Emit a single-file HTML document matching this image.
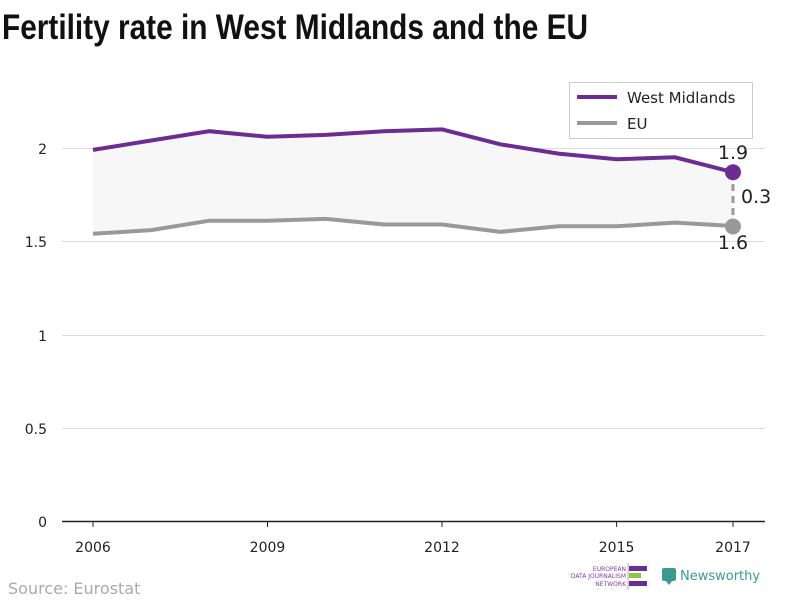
<!DOCTYPE html>
<html><head><meta charset="utf-8"><style>
body{margin:0;background:#fff;}
svg text{font-family:"DejaVu Sans","Liberation Sans",sans-serif;}
</style></head><body>
<svg width="800" height="600" viewBox="0 0 800 600" xmlns="http://www.w3.org/2000/svg">
<text x="2" y="39" font-weight="bold" font-size="35" fill="#111" style="font-family:'Liberation Sans Narrow','Liberation Sans',sans-serif" textLength="586" lengthAdjust="spacingAndGlyphs">Fertility rate in West Midlands and the EU</text>
<g stroke="#ddd" stroke-width="1">
<line x1="62" x2="765" y1="148.5" y2="148.5"/>
<line x1="62" x2="765" y1="241.5" y2="241.5"/>
<line x1="62" x2="765" y1="335.5" y2="335.5"/>
<line x1="62" x2="765" y1="428.5" y2="428.5"/>
</g>
<line x1="62" x2="765" y1="521.5" y2="521.5" stroke="#222" stroke-width="1.5"/>
<g font-size="14" fill="#222" text-anchor="end">
<text x="47" y="154">2</text><text x="47" y="247">1.5</text><text x="47" y="341">1</text><text x="47" y="434">0.5</text><text x="47" y="527">0</text>
</g>
<g stroke="#222"><line x1="93" x2="93" y1="521" y2="527"/><line x1="267.5" x2="267.5" y1="521" y2="527"/><line x1="442" x2="442" y1="521" y2="527"/><line x1="616.6" x2="616.6" y1="521" y2="527"/><line x1="733" x2="733" y1="521" y2="527"/></g>
<g font-size="14" fill="#222" text-anchor="middle">
<text x="93" y="552">2006</text><text x="267.5" y="552">2009</text><text x="442" y="552">2012</text><text x="616.6" y="552">2015</text><text x="733" y="552">2017</text>
</g>
<polygon fill="#f7f7f7" points="93,149.9 151.2,140.5 209.4,131.2 267.5,136.8 325.7,134.9 383.9,131.2 442.1,129.4 500.3,144.3 558.4,153.6 616.6,159.2 674.8,157.3 733,172.2 733,226 674.8,222.6 616.6,226.3 558.4,226.3 500.3,231.9 442.1,224.5 383.9,224.5 325.7,218.9 267.5,220.7 209.4,220.7 151.2,230.1 93,233.8"/>
<polyline fill="none" stroke="#999" stroke-width="4" points="93,233.8 151.2,230.1 209.4,220.7 267.5,220.7 325.7,218.9 383.9,224.5 442.1,224.5 500.3,231.9 558.4,226.3 616.6,226.3 674.8,222.6 733,226"/>
<polyline fill="none" stroke="#6c2c91" stroke-width="4" points="93,149.9 151.2,140.5 209.4,131.2 267.5,136.8 325.7,134.9 383.9,131.2 442.1,129.4 500.3,144.3 558.4,153.6 616.6,159.2 674.8,157.3 733,172.2"/>
<line x1="733" x2="733" y1="184" y2="216" stroke="#999" stroke-width="3" stroke-dasharray="7,5"/>
<circle cx="733" cy="172.2" r="8" fill="#6c2c91"/>
<circle cx="733" cy="226.5" r="8" fill="#999"/>
<g font-size="19" fill="#222">
<text x="733" y="159" text-anchor="middle">1.9</text>
<text x="733" y="249" text-anchor="middle">1.6</text>
<text x="741" y="203">0.3</text>
</g>
<rect x="569.5" y="82.5" width="183" height="56" fill="#fff" stroke="#ccc"/>
<line x1="577" x2="617" y1="97" y2="97" stroke="#6c2c91" stroke-width="4"/>
<line x1="577" x2="617" y1="123" y2="123" stroke="#999" stroke-width="4"/>
<g font-size="15" fill="#222"><text x="627" y="103">West Midlands</text><text x="627" y="129">EU</text></g>
<text x="8" y="594" font-size="16" fill="#aaa">Source: Eurostat</text>
<g font-size="6" fill="#7a3ea0" text-anchor="end">
<text x="626" y="571">EUROPEAN</text><text x="626" y="578">DATA JOURNALISM</text><text x="626" y="586">NETWORK</text>
</g>
<line x1="628" x2="628" y1="563" y2="590" stroke="#b9a0cc"/>
<rect x="629" y="566" width="18" height="5" fill="#6c2c91"/>
<rect x="629" y="573" width="12" height="5" fill="#8dc63f"/>
<rect x="629" y="581" width="18" height="5" fill="#6c2c91"/>
<rect x="662" y="568" width="14" height="13" rx="2" fill="#3a9a92"/>
<polygon points="666,581 672,581 669,585" fill="#3a9a92"/>
<text x="680" y="580" font-size="13" fill="#3a9a92">Newsworthy</text>
</svg>
</body></html>
